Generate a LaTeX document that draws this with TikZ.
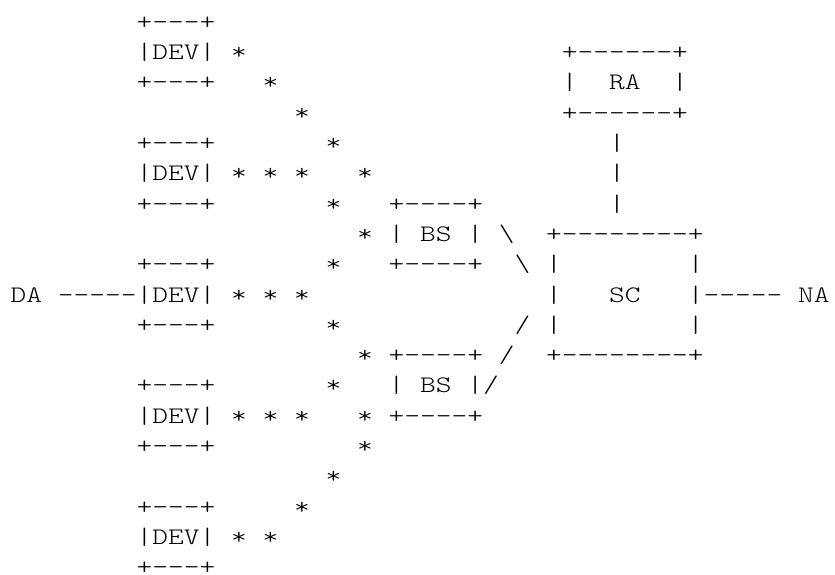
\documentclass[tikz,border=0pt]{standalone}
\usepackage{graphicx}
\usepackage{fontspec}
\newfontfamily\artfont{lmmonolt10-regular.otf}
\newlength\artcw
\setlength\artcw{15.75pt}
\newcommand\artcell[1]{\ifx.#1\hbox to\artcw{\hfil}\else\hbox to\artcw{\hss\scalebox{1.265}[1]{#1}\hss}\fi}
\def\artA#1{\ifx\relax#1\else\artcell{#1}\expandafter\artA\fi}
\newcommand\art[1]{\artA#1\relax}
\tikzset{artnode/.style={inner sep=0pt,outer sep=0pt,anchor=base west,text=black,
  font=\artfont\fontsize{23.7pt}{28pt}\selectfont}}
\newcommand\seg[4]{\node[artnode] (#1) at ({10.6+15.75*#3},{-29.3-30.3*#2}) {\art{#4}};}
\begin{document}
\begin{tikzpicture}[x=1pt,y=1pt]
\useasboundingbox (0,0) rectangle (835,-574);
% row 0
\seg{devAtop}{0}{8}{+---+}
% row 1
\seg{devAmid}{1}{8}{|DEV|}
\seg{sA1}{1}{14}{*}
\seg{ratop}{1}{35}{+------+}
% row 2
\seg{devAbot}{2}{8}{+---+}
\seg{sA2}{2}{16}{*}
\seg{ramid}{2}{35}{|..RA..|}
% row 3
\seg{sA3}{3}{18}{*}
\seg{rabot}{3}{35}{+------+}
% row 4
\seg{devBtop}{4}{8}{+---+}
\seg{sA4}{4}{20}{*}
\seg{raline1}{4}{38}{|}
% row 5
\seg{devBmid}{5}{8}{|DEV|}
\seg{sB5}{5}{14}{*.*.*...*}
\seg{raline2}{5}{38}{|}
% row 6
\seg{devBbot}{6}{8}{+---+}
\seg{sB6}{6}{20}{*}
\seg{bsAtop}{6}{24}{+----+}
\seg{raline3}{6}{38}{|}
% row 7
\seg{sB7}{7}{22}{*}
\seg{bsAmid}{7}{24}{|.BS.|}
\seg{lnA1}{7}{31}{\textbackslash}
\seg{sctop}{7}{34}{+--------+}
% row 8
\seg{devCtop}{8}{8}{+---+}
\seg{sC8}{8}{20}{*}
\seg{bsAbot}{8}{24}{+----+}
\seg{lnA2}{8}{32}{\textbackslash}
\seg{scup}{8}{34}{|........|}
% row 9
\seg{devCmid}{9}{0}{DA.-----|DEV|}
\seg{sC9}{9}{14}{*.*.*}
\seg{scmid}{9}{34}{|...SC...|-----.NA}
% row 10
\seg{devCbot}{10}{8}{+---+}
\seg{sC10}{10}{20}{*}
\seg{lnB1}{10}{32}{/}
\seg{sclow}{10}{34}{|........|}
% row 11
\seg{sC11}{11}{22}{*}
\seg{bsBtop}{11}{24}{+----+}
\seg{lnB2}{11}{31}{/}
\seg{scbot}{11}{34}{+--------+}
% row 12
\seg{devDtop}{12}{8}{+---+}
\seg{sD12}{12}{20}{*}
\seg{bsBmid}{12}{24}{|.BS.|/}
% row 13
\seg{devDmid}{13}{8}{|DEV|}
\seg{sD13}{13}{14}{*.*.*...*}
\seg{bsBbot}{13}{24}{+----+}
% row 14
\seg{devDbot}{14}{8}{+---+}
\seg{sD14}{14}{22}{*}
% row 15
\seg{sE15}{15}{20}{*}
% row 16
\seg{devEtop}{16}{8}{+---+}
\seg{sE16}{16}{18}{*}
% row 17
\seg{devEmid}{17}{8}{|DEV|}
\seg{sE17}{17}{14}{*.*}
% row 18
\seg{devEbot}{18}{8}{+---+}
\end{tikzpicture}
\end{document}
